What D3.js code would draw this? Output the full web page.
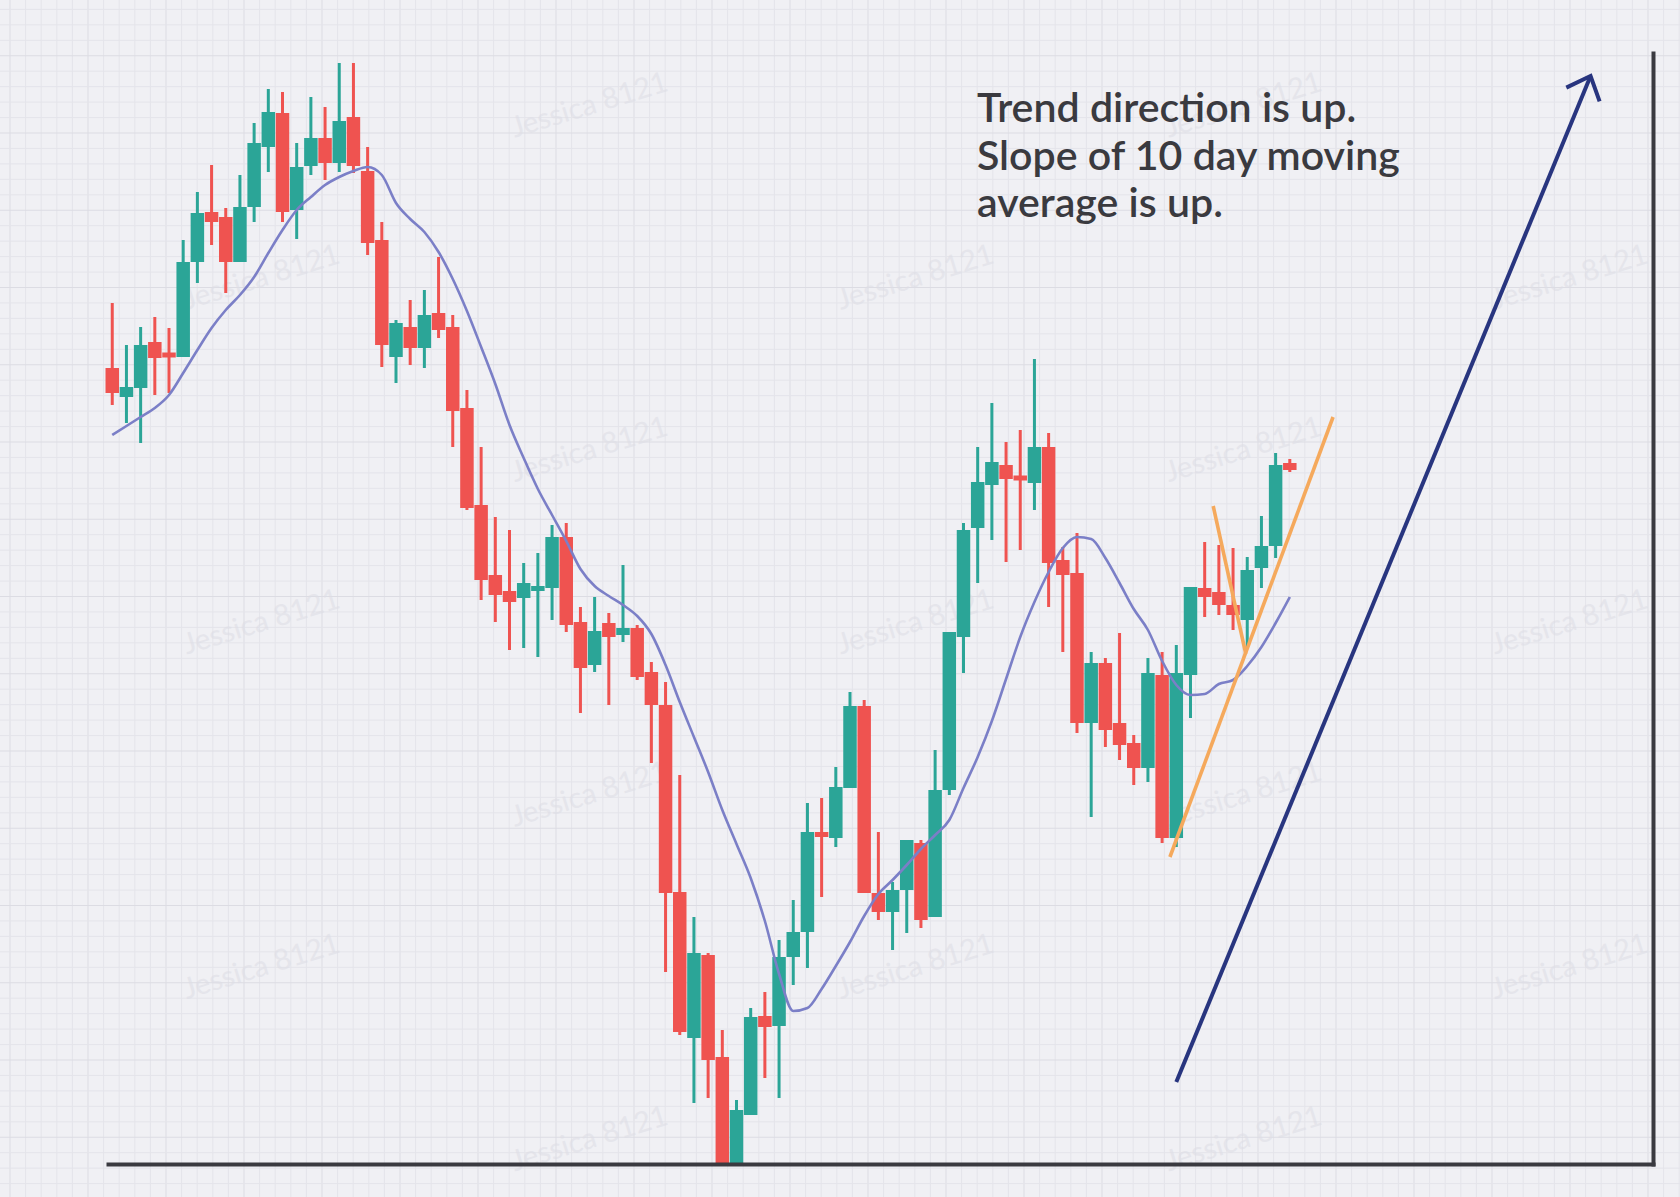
<!DOCTYPE html>
<html><head><meta charset="utf-8">
<script src="https://cdn.jsdelivr.net/npm/d3@7"></script>
<style>html,body{margin:0;padding:0;background:#f0f0f4;} svg{display:block}</style>
</head><body><svg id="chart" width="1680" height="1197"></svg>
<script>
// ---- DATA (day index 1..84, prices) ----
const opens  = [79.6,76.7,77.6,82.2,81.1,80.7,90.2,95.2,94.7,90.2,95.7,101.7,105.1,95.4,99.8,102.6,100.1,104.7,99.3,92.4,
                80.7,83.7,81.6,85.1,83.7,75.6,65.9,58.9,57.3,56.6,57.3,57.6,62.7,54.2,49.9,54.1,52.9,53.6,49.2,45.9,
                27.2,12.6,20.9,10.7,0.1,4.9,14.8,13.8,20.7,23.2,33.2,32.6,37.6,45.8,27.1,25.2,27.4,32.1,24.7,37.4,
                52.7,63.6,67.9,69.9,68.8,68.1,71.7,60.4,59.1,44.1,50.1,44.1,42.1,39.6,48.9,32.6,48.9,57.6,57.2,55.9,
                54.4,59.6,61.8,70.1];
const highs  = [86.1,81.9,83.7,84.7,83.6,92.4,97.2,99.9,95.6,98.9,104.1,107.5,107.2,102.1,106.7,105.7,110.1,110.1,101.7,94.2,
                84.4,86.4,87.4,90.7,84.9,77.4,71.7,64.7,63.4,60.1,61.1,63.9,64.1,55.7,56.7,55.1,59.9,53.9,50.2,48.2,
                38.9,24.7,21.1,13.4,6.4,15.6,17.2,22.4,26.4,36.1,36.6,39.7,47.2,46.4,33.2,28.2,32.4,32.4,41.4,53.2,
                64.1,71.7,76.1,72.2,73.4,80.5,73.1,61.7,63.1,51.2,50.6,53.1,42.9,50.6,51.2,51.9,57.7,62.2,61.9,61.6,
                60.7,64.8,71.1,70.5];
const lows   = [75.9,74.1,72.1,76.9,77.1,80.7,88.1,91.9,87.1,90.2,94.2,99.2,94.2,92.5,98.9,98.4,99.2,99.1,90.9,79.7,
                78.1,79.9,79.6,82.6,71.7,65.4,56.4,54.2,51.4,51.6,50.7,54.4,53.2,45.1,49.2,45.9,52.2,48.4,40.1,19.2,
                12.9,6.1,6.6,0,0,4.9,8.6,6.6,17.9,19.6,26.7,31.7,37.6,27.1,24.4,21.4,23.1,23.6,24.7,36.9,
                49.1,58.1,62.4,60.2,61.4,65.4,55.7,51.2,43.1,34.7,41.7,40.4,37.9,38.2,32.1,31.7,44.6,54.7,54.9,53.4,
                51.7,57.6,60.6,69.2];
const closes = [77.1,77.7,81.9,80.6,80.7,90.2,95.1,94.2,90.2,95.7,102.1,105.2,95.2,99.7,102.6,100.1,104.3,99.8,92.1,81.9,
                84.1,81.6,84.9,83.4,75.3,65.6,58.4,56.9,56.2,58.1,57.8,62.7,53.9,49.6,53.3,52.7,53.6,48.7,45.9,27.1,
                13.2,21.1,10.4,0.1,5.4,14.7,13.7,20.7,23.2,33.2,32.7,37.7,45.8,27.1,25.2,27.4,32.4,24.4,37.4,53.2,
                63.4,68.2,70.2,68.5,68.4,71.7,60.1,58.9,44.1,50.1,43.4,41.9,39.6,49.1,32.6,49.1,57.7,56.7,55.9,54.9,
                59.4,61.8,69.9,69.4];
// 10 day moving average as drawn in the picture
const movingAverage = [72.9,73.8,74.7,75.6,76.9,79.1,81.4,83.6,85.4,86.9,88.7,91.1,93.4,95.4,96.7,97.9,98.7,99.3,99.7,98.9,
                96.1,94.5,93.2,91.2,88.5,85.3,81.7,78.0,73.9,70.6,67.5,64.9,62.3,59.5,57.8,56.8,55.9,54.8,53.0,49.9,
                46.2,42.7,39.2,35.4,32.0,28.6,24.3,19.0,15.3,15.6,17.5,19.8,22.2,24.8,27.0,28.4,29.9,31.5,32.9,34.4,
                37.6,40.7,44.3,48.5,52.7,56.2,59.2,61.6,62.7,62.5,60.6,58.1,55.5,53.4,50.3,47.9,46.9,47.0,48.0,48.4,
                49.8,51.7,54.1,56.7];
const annotationLines = ["Trend direction is up.", "Slope of 10 day moving", "average is up."];
const watermarkText = "Jessica 8121";
// annotation lines in (day, price)
const supportLine = [[75.55, 30.7], [87.05, 74.7]];
const pullbackLine = [[78.6, 65.8], [80.9, 51.0]];
const trendArrow = [[76.0, 8.2], [105.2, 108.8]];

// ---- DRAW ----
const W = 1680, H = 1197;
const svg = d3.select("#chart");
const x = d3.scaleLinear().domain([0.7, 109.6]).range([108, 1653]);
const y = d3.scaleLinear().domain([0, 111.1]).range([1164, 53]);
const step = x(2) - x(1);
const bodyW = step * 0.95;

svg.append("rect").attr("width", W).attr("height", H).attr("fill", "#f0f0f4");

// graph-paper grid
const grid = svg.append("g");
const gxs = d3.range(10 - 15.6 * 5, W, 15.6);
const gys = d3.range(1060 - 15.45 * 70, H, 15.45);
grid.selectAll("line.v").data(gxs).join("line")
  .attr("x1", d => d).attr("x2", d => d).attr("y1", 0).attr("y2", H)
  .attr("stroke", (d, i) => i % 5 === 0 ? "#dcdce3" : "#e4e4ea").attr("stroke-width", 1);
grid.selectAll("line.h").data(gys).join("line")
  .attr("y1", d => d).attr("y2", d => d).attr("x1", 0).attr("x2", W)
  .attr("stroke", (d, i) => i % 5 === 0 ? "#dcdce3" : "#e4e4ea").attr("stroke-width", 1);

// watermarks (only those fully inside the picture)
const wm = svg.append("g");
for (let r = 0; r < 7; r++) {
  const yy = 107 + 172.3 * r;
  const x0 = r % 2 === 0 ? -64 : 262;
  for (let c = 0; c < 4; c++) {
    const xx = x0 + 654 * c;
    if (xx < 100 || xx > 1590) continue;
    wm.append("text").text(watermarkText)
      .attr("transform", `translate(${xx},${yy}) rotate(-17)`)
      .attr("text-anchor", "middle").attr("dominant-baseline", "middle")
      .attr("font-family", "Lato, 'Open Sans', sans-serif").attr("font-size", 29)
      .attr("fill", "#dedee6").attr("opacity", 0.6);
  }
}

const candles = opens.map((o, i) => ({day: i + 1, o, h: highs[i], l: lows[i], c: closes[i]}));
const up = "#2ba597", down = "#ef5350";
const cg = svg.append("g");
cg.selectAll("line.wick").data(candles).join("line")
  .attr("x1", d => x(d.day)).attr("x2", d => x(d.day))
  .attr("y1", d => y(d.h)).attr("y2", d => y(d.l))
  .attr("stroke", d => d.c >= d.o ? up : down).attr("stroke-width", 3);
cg.selectAll("rect.body").data(candles).join("rect")
  .attr("x", d => x(d.day) - bodyW / 2).attr("width", bodyW)
  .attr("y", d => Math.min(y(d.o), y(d.c)) - (Math.abs(y(d.o) - y(d.c)) < 5 ? (5 - Math.abs(y(d.o) - y(d.c))) / 2 : 0))
  .attr("height", d => Math.max(Math.abs(y(d.o) - y(d.c)), 5))
  .attr("fill", d => d.c >= d.o ? up : down);

// moving average
svg.append("path").datum(movingAverage)
  .attr("d", d3.line().x((d, i) => x(i + 1)).y(d => y(d)).curve(d3.curveMonotoneX))
  .attr("fill", "none").attr("stroke", "#7b7fc7").attr("stroke-width", 2.6);

// orange trend lines
const lineGen = d3.line().x(d => x(d[0])).y(d => y(d[1]));
[supportLine, pullbackLine].forEach(l => svg.append("path").attr("d", lineGen(l))
  .attr("stroke", "#f5a95c").attr("stroke-width", 3.6).attr("fill", "none"));

// navy arrow
svg.append("defs").append("marker").attr("id", "arrowhead")
  .attr("markerUnits", "userSpaceOnUse").attr("markerWidth", 40).attr("markerHeight", 40)
  .attr("refX", 0).attr("refY", 0).attr("viewBox", "-30 -20 40 40").attr("orient", "auto")
  .append("path").attr("d", "M-20,-18 L0,0 L-20,18").attr("fill", "none")
  .attr("stroke", "#28357f").attr("stroke-width", 4).attr("stroke-linecap", "butt");
svg.append("path").attr("d", lineGen(trendArrow))
  .attr("stroke", "#28357f").attr("stroke-width", 4).attr("fill", "none")
  .attr("marker-end", "url(#arrowhead)");

// axes
const ax = svg.append("g").attr("transform", `translate(0,${y(0)})`)
  .call(d3.axisBottom(x).tickValues([]).tickSizeOuter(0));
const ay = svg.append("g").attr("transform", `translate(${x(109.6)},0)`)
  .call(d3.axisRight(y).tickValues([]).tickSizeOuter(0));
[ax, ay].forEach(a => a.select(".domain").attr("stroke", "#3a3a40").attr("stroke-width", 4).attr("stroke-linecap", "square"));

// annotation text
const tg = svg.append("g").attr("font-family", "Lato, 'Open Sans', sans-serif")
  .attr("font-weight", 600).attr("fill", "#3a3a3f");
const probe = tg.append("text").attr("font-size", 40).text(annotationLines[1]);
const w40 = probe.node().getComputedTextLength();
probe.remove();
const fs = 40 * 423 / w40;
const baselines = [122, 169.5, 217];
tg.selectAll("text").data(annotationLines).join("text")
  .attr("x", 977).attr("y", (d, i) => baselines[i]).attr("font-size", fs).text(d => d);
</script></body></html>
